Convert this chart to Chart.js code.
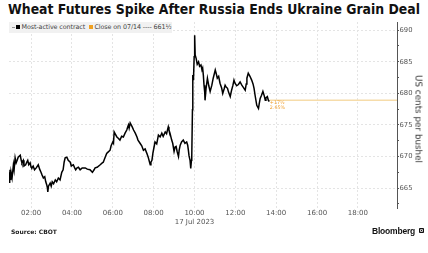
<!DOCTYPE html>
<html>
<head>
<meta charset="utf-8">
<script src="https://cdn.jsdelivr.net/npm/chart.js@4"></script>
<style>
  html, body { margin:0; padding:0; background:#fff; }
  #wrap { position:relative; width:428px; height:253px; overflow:hidden; font-family:"DejaVu Sans", Verdana, sans-serif; }
  #title { position:absolute; left:8px; top:1px; font-weight:bold; font-size:14px; line-height:16px; color:#111; white-space:nowrap; transform-origin:0 0; }
  canvas { position:absolute; left:0; top:0; }
  #legend { position:absolute; left:9px; top:22px; width:163px; height:11px; background:#f1f1f1; font-size:6.4px; line-height:11px; color:#444; white-space:nowrap; letter-spacing:-0.1px; }
  #legend .dash { display:inline-block; width:3px; height:1px; background:#999; vertical-align:middle; margin:0 1px 0 3px; }
  #legend .sq { display:inline-block; width:4px; height:4px; vertical-align:middle; margin-right:1.5px; position:relative; top:-0.5px; }
  #ytitle { position:absolute; left:418px; top:119px; transform:translate(-50%,-50%) rotate(90deg); font-size:8.8px; line-height:9px; color:#333; white-space:nowrap; }
  #source { position:absolute; left:11px; top:228px; font-weight:bold; font-size:6px; color:#222; white-space:nowrap; }
  #bbg { position:absolute; left:372px; top:226px; font-family:"Liberation Sans", Arial, sans-serif; font-weight:bold; font-size:8.5px; color:#111; white-space:nowrap; letter-spacing:-0.2px; }
  #bbg .ic { display:inline-block; width:5px; height:5px; background:#111; border-radius:1px; margin-left:4px; vertical-align:middle; position:relative; top:-1px; box-shadow: inset 0 0 0 1.2px #111, inset 0 0 0 2px #fff; }
</style>
</head>
<body>
<div id="wrap">
  <div id="title">Wheat Futures Spike After Russia Ends Ukraine Grain Deal</div>
  <canvas id="c" width="428" height="253"></canvas>
  <div id="legend"><span class="dash"></span><span class="sq" style="background:#000"></span>Most-active contract&nbsp;&nbsp;<span class="sq" style="background:#f0a020"></span>Close on 07/14 ---- 661½</div>
  <div id="ytitle">US cents per bushel</div>
  <div id="source">Source: CBOT</div>
  <div id="bbg">Bloomberg<span class="ic"></span></div>
</div>
<script>
// ---- Data (time in minutes since midnight, 17 Jul 2023; price in US cents per bushel) ----
const minutes = [
  55,57,58,60,61,64,68,70,73,76,79,82,88,91,93,97,99,104,107,110,113,117,120,122,126,130,135,141,145,149,
  152,156,160,163,166,168,169,171,176,179,182,186,191,195,200,205,210,214,217,220,225,229,235,238,244,248,251,255,259,264,
  270,279,285,293,300,305,308,314,323,329,332,337,342,346,352,355,360,362,364,367,372,376,381,386,391,396,401,404,406,408,
  411,414,417,421,426,431,434,440,445,450,455,460,464,467,470,472,475,478,484,489,494,499,504,508,514,518,523,525,528,533,
  536,540,543,546,549,553,555,558,562,567,572,577,580,582,584,587,589,591,592,594,595,597,599,600,601,602,605,608,612,615,
  619,622,624,626,628,630,631,634,638,642,646,651,655,661,664,667,671,675,680,683,687,690,693,697,700,705,709,713,716,719,
  724,729,734,739,743,749,752,754,758,763,768,772,775,778,783,788,790,793,797,801,805,808,810,814,817,820
];
const prices = [
  667.5,665.8,667.9,666.3,667.5,666.6,668.7,667.9,669.8,669.0,669.4,669.9,670.2,669.4,669.0,669.4,668.5,668.7,669.1,669.4,668.7,669.0,668.3,668.2,668.5,667.9,668.2,668.7,668.0,667.5,
  667.1,666.6,666.8,666.0,665.5,665.0,664.4,665.3,665.8,665.3,666.0,665.7,666.3,666.0,666.6,666.3,667.5,667.9,669.1,669.8,669.9,669.4,669.1,668.5,668.7,668.2,667.9,668.2,668.3,667.9,
  668.2,668.2,668.0,667.9,667.5,667.9,668.2,668.3,668.7,669.0,669.1,669.8,670.5,670.7,671.0,671.7,672.3,672.1,673.9,673.6,673.1,672.9,672.6,673.2,673.1,673.7,674.2,674.7,675.0,674.5,
  675.3,675.0,674.7,674.2,673.7,673.1,672.6,672.1,671.7,671.0,671.2,670.5,669.9,669.3,668.7,669.1,669.4,670.6,672.3,672.0,673.4,673.1,673.7,673.2,673.9,673.6,674.7,674.2,673.7,672.6,
  672.1,670.8,671.5,671.6,670.8,670.0,671.0,671.8,672.3,672.6,672.1,672.3,671.8,671.0,670.1,669.4,668.1,669.4,670.0,677.4,682.9,682.1,685.8,687.6,689.2,686.1,685.5,684.6,685.0,684.3,
  684.5,683.7,684.0,682.9,681.3,680.2,678.9,680.8,682.4,681.2,680.3,681.3,682.4,683.7,683.1,682.4,682.7,681.6,680.8,680.0,680.7,681.3,681.0,680.8,680.2,679.5,680.5,681.3,682.1,681.6,
  681.2,681.4,681.8,681.3,681.0,680.5,681.5,682.4,683.2,682.7,682.1,681.5,680.8,679.7,678.1,677.6,678.3,679.2,679.7,680.3,679.6,678.9,679.3,679.5,678.9,678.7
];
// reference level line (pale orange) and its labels
const refMinutes = [820, 1195];
const refValues = [678.9, 678.9];
const refLabels = ["+17½", "2.65%"];
// axes
const xMin = 55, xMax = 1195;
const yMin = 661.85, yMax = 691.3;
const xTickMinutes = [120, 240, 360, 480, 600, 720, 840, 960, 1080];
const dateLabelMinute = 600;
const dateLabel = "17 Jul 2023";

function fmt(m) { const h = Math.floor(m / 60); return (h < 10 ? "0" : "") + h + ":00"; }

const refLabelPlugin = {
  id: "refLabel",
  afterDatasetsDraw(chart) {
    const { ctx, scales: { x, y } } = chart;
    const px = x.getPixelForValue(refMinutes[0]) + 0.5;
    const py = y.getPixelForValue(refValues[0]);
    ctx.save();
    ctx.fillStyle = "#f0a030";
    ctx.font = "4.8px 'DejaVu Sans'";
    ctx.textBaseline = "middle";
    ctx.fillText(refLabels[0], px, py + 2.2);
    ctx.fillText(refLabels[1], px, py + 7.6);
    ctx.restore();
  }
};

new Chart(document.getElementById("c"), {
  type: "line",
  data: {
    datasets: [
      {
        data: minutes.map((m, i) => ({ x: m, y: prices[i] })),
        borderColor: "#000",
        borderWidth: 1.5,
        pointRadius: 0,
        tension: 0
      },
      {
        data: refMinutes.map((m, i) => ({ x: m, y: refValues[i] })),
        borderColor: "#f6dcaa",
        borderWidth: 1.6,
        pointRadius: 0
      }
    ]
  },
  options: {
    responsive: false,
    animation: false,
    devicePixelRatio: 1,
    layout: { padding: { left: 9, top: 22, right: 0, bottom: 21 } },
    plugins: { legend: { display: false }, tooltip: { enabled: false }, title: { display: false } },
    scales: {
      x: {
        type: "linear",
        min: xMin, max: xMax,
        afterFit(s) { s.height = 24; },
        afterBuildTicks(s) { s.ticks = xTickMinutes.map(v => ({ value: v })); },
        border: { display: false, dash: [2, 2] },
        grid: { color: "#e4e4e4", lineWidth: 1, drawTicks: false },
        ticks: {
          autoSkip: false, maxRotation: 0, padding: 0,
          color: "#555",
          font: { family: "DejaVu Sans", size: 7, lineHeight: 1.35 },
          callback: (v) => v === dateLabelMinute ? [fmt(v), dateLabel] : fmt(v)
        }
      },
      y: {
        type: "linear",
        position: "right",
        min: yMin, max: yMax,
        afterFit(s) { s.width = 31; },
        afterBuildTicks(s) {
          const t = [];
          for (let v = 662.5; v <= 690.01; v += 2.5) t.push({ value: v });
          s.ticks = t;
        },
        border: { display: true, color: "#555", width: 1, dash: [2, 2] },
        grid: {
          lineWidth: 1,
          color: (c) => (c.tick && Math.abs(c.tick.value % 5) < 0.01) ? "#e4e4e4" : "rgba(0,0,0,0)",
          tickColor: "#555",
          tickLength: 2,
          drawTicks: true
        },
        ticks: {
          autoSkip: false, padding: 0.5,
          color: "#555",
          font: { family: "DejaVu Sans", size: 6.8 },
          callback: (v) => Math.abs(v % 5) < 0.01 ? String(Math.round(v)) : ""
        }
      }
    }
  },
  plugins: [refLabelPlugin]
});

// fit title width to the reference span
(function () {
  const t = document.getElementById("title");
  const w = t.getBoundingClientRect().width;
  const target = 412;
  t.style.transform = "scaleX(" + (target / w) + ")";
})();
</script>
</body>
</html>
